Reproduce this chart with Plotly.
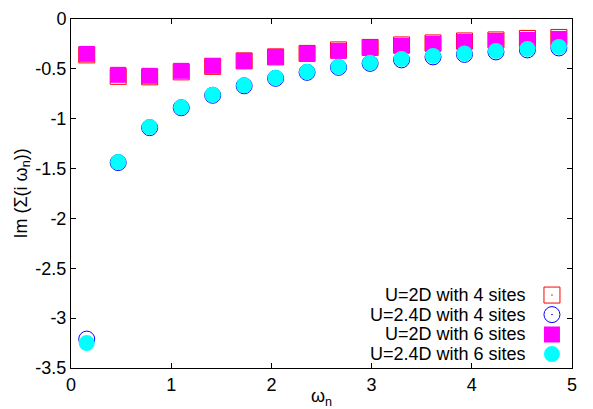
import plotly.graph_objects as go

omega = [0.157, 0.471, 0.785, 1.100, 1.414, 1.728, 2.042, 2.356,
         2.670, 2.985, 3.299, 3.613, 3.927, 4.241, 4.555, 4.869]
u2_4sites = [-0.36, -0.575, -0.58, -0.53, -0.475, -0.42, -0.38, -0.345,
             -0.31, -0.285, -0.26, -0.24, -0.22, -0.21, -0.195, -0.185]
u24_4sites = [-3.21, -1.44, -1.09, -0.89, -0.765, -0.67, -0.595, -0.535,
              -0.485, -0.445, -0.41, -0.38, -0.355, -0.33, -0.31, -0.29]
u2_6sites = [-0.35, -0.56, -0.57, -0.52, -0.47, -0.42, -0.38, -0.35,
             -0.32, -0.29, -0.27, -0.25, -0.23, -0.22, -0.21, -0.20]
u24_6sites = [-3.25, -1.435, -1.083, -0.886, -0.76, -0.665, -0.59, -0.53,
              -0.48, -0.44, -0.40, -0.37, -0.345, -0.32, -0.30, -0.28]

labels = ["U=2D with 4 sites", "U=2.4D with 4 sites",
          "U=2D with 6 sites", "U=2.4D with 6 sites"]
xticks = [0, 1, 2, 3, 4, 5]
yticks = [0, -0.5, -1, -1.5, -2, -2.5, -3, -3.5]
ytick_text = ["0", "-0.5", "-1", "-1.5", "-2", "-2.5", "-3", "-3.5"]

FONT = "Liberation Sans"
FS = 18

styles = [
    dict(symbol="square-open-dot", size=16, color="#ff0000", line=dict(color="#ff0000", width=1)),
    dict(symbol="circle-open-dot", size=16, color="#0000ff", line=dict(color="#0000ff", width=1)),
    dict(symbol="square", size=16, color="#ff00ff", line=dict(width=0)),
    dict(symbol="circle", size=16, color="#00ffff", line=dict(width=0)),
]
series = [u2_4sites, u24_4sites, u2_6sites, u24_6sites]

fig = go.Figure()
for ys, st, lab in zip(series, styles, labels):
    fig.add_trace(go.Scatter(x=omega, y=ys, mode="markers", marker=st,
                             name=lab, showlegend=False, hoverinfo="skip"))

# custom legend (text right-aligned, symbol on right), gnuplot style
leg_y = [0.209, 0.153, 0.096, 0.040]
for lab, st, yy in zip(labels, styles, leg_y):
    fig.add_trace(go.Scatter(x=[0.960], y=[yy], mode="markers", marker=st,
                             xaxis="x2", yaxis="y2", showlegend=False,
                             hoverinfo="skip"))
    fig.add_annotation(x=0.912, y=yy, xref="paper", yref="paper", text=lab,
                       showarrow=False, xanchor="right", yanchor="middle",
                       font=dict(family=FONT, size=FS, color="black"))

axis_common = dict(showline=True, linecolor="black", linewidth=1, mirror="allticks",
                   ticks="inside", ticklen=5, tickcolor="black", showgrid=False,
                   zeroline=False, automargin=False,
                   tickfont=dict(family=FONT, size=FS, color="black"))

# the page body has an 8px default margin; compensate in size/margins
fig.update_layout(
    width=585, height=401,
    margin=dict(l=63, r=21, t=11, b=41, autoexpand=False),
    paper_bgcolor="white", plot_bgcolor="white",
    font=dict(family=FONT, size=FS, color="black"),
    xaxis=dict(range=[0, 5], tickvals=xticks, ticktext=[str(v) for v in xticks],
               **axis_common),
    yaxis=dict(range=[-3.5, 0], tickvals=yticks, ticktext=ytick_text, **axis_common),
    xaxis2=dict(range=[0, 1], overlaying="x", visible=False, automargin=False),
    yaxis2=dict(range=[0, 1], overlaying="y", visible=False, automargin=False),
)

fig.add_annotation(x=0.5, y=0, xref="paper", yref="paper", yshift=-29,
                   text="ω<sub>n</sub>", showarrow=False, xanchor="center",
                   yanchor="middle", font=dict(family=FONT, size=FS))
fig.add_annotation(x=0, y=0.5, xref="paper", yref="paper", xshift=-49,
                   text="Im (Σ(i ω<sub>n</sub>))", showarrow=False, textangle=-90,
                   xanchor="center", yanchor="middle", font=dict(family=FONT, size=FS))

fig.write_html("out.html")
